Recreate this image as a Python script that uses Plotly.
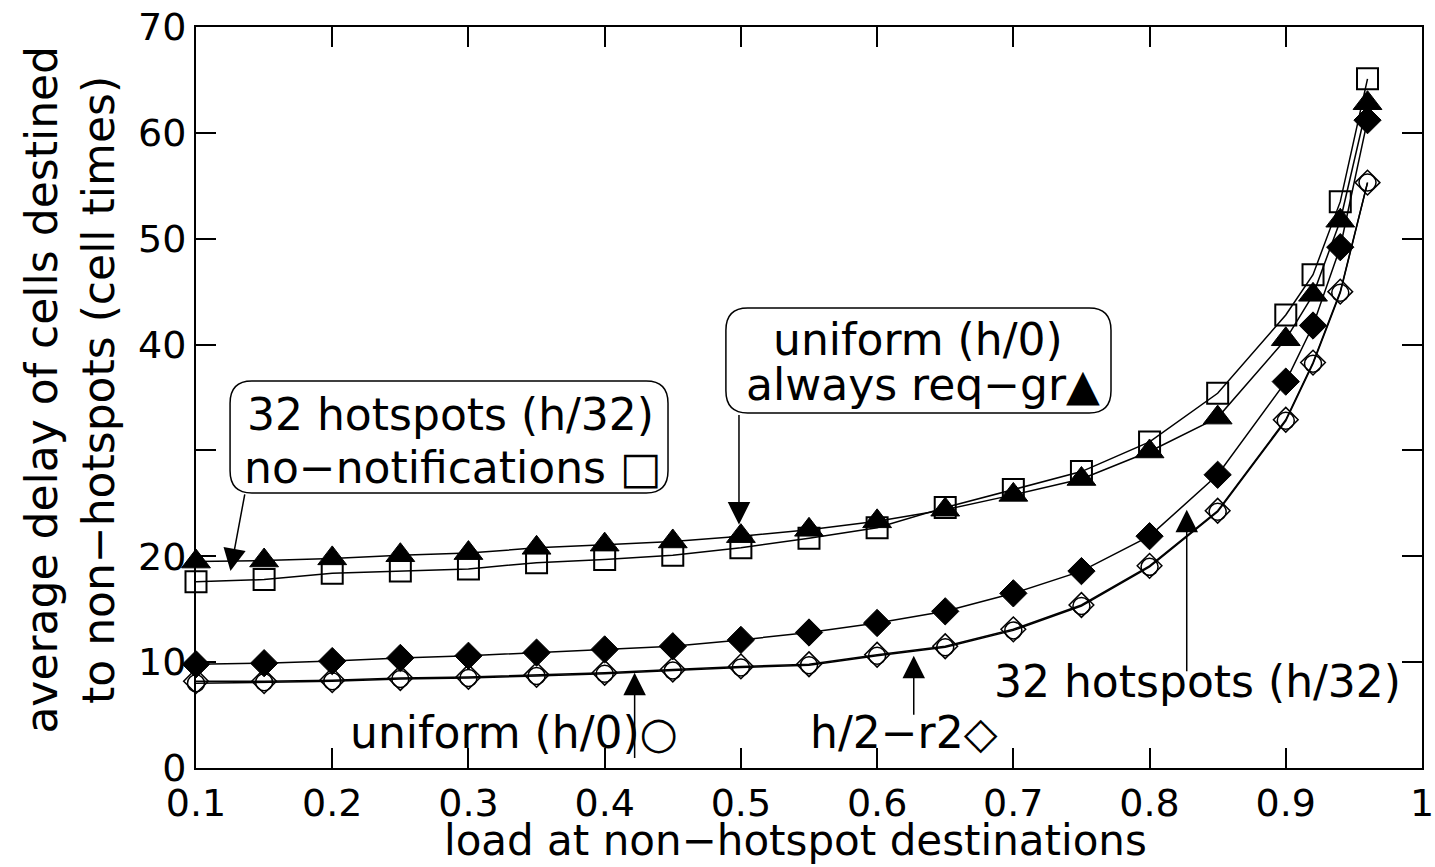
import plotly.graph_objects as go

# ---------------- data ----------------
load = [0.1, 0.15, 0.2, 0.25, 0.3, 0.35, 0.4, 0.45, 0.5, 0.55, 0.6, 0.65,
        0.7, 0.75, 0.8, 0.85, 0.9, 0.92, 0.94, 0.96]

h32_no_notif = [17.6, 17.8, 18.4, 18.6, 18.8, 19.4, 19.7, 20.1, 20.8, 21.7,
                22.7, 24.6, 26.3, 28.0, 30.8, 35.4, 42.8, 46.6, 53.5, 65.1]
uniform_always = [19.5, 19.6, 19.8, 20.1, 20.3, 20.8, 21.1, 21.4, 21.9, 22.5,
                  23.3, 24.4, 25.8, 27.3, 29.9, 33.1, 40.5, 44.7, 51.7, 62.8]
h32 = [9.8, 9.9, 10.1, 10.4, 10.6, 10.9, 11.2, 11.5, 12.1, 12.8,
       13.7, 14.8, 16.5, 18.6, 21.9, 27.7, 36.5, 41.8, 49.2, 61.2]
h2_r2 = [8.2, 8.2, 8.3, 8.5, 8.6, 8.8, 9.0, 9.3, 9.6, 9.8,
         10.7, 11.5, 13.1, 15.4, 19.1, 24.3, 32.9, 38.3, 45.0, 55.3]
uniform_h0 = [8.0, 8.1, 8.2, 8.4, 8.5, 8.7, 8.9, 9.2, 9.5, 9.7,
              10.6, 11.4, 13.0, 15.3, 19.0, 24.2, 32.8, 38.2, 44.9, 55.3]

x_ticks = [0.1, 0.2, 0.3, 0.4, 0.5, 0.6, 0.7, 0.8, 0.9, 1.0]
x_ticktext = ["0.1", "0.2", "0.3", "0.4", "0.5", "0.6", "0.7", "0.8", "0.9", "1"]
y_ticks = [0, 10, 20, 30, 40, 50, 60, 70]
y_ticktext = ["0", "10", "20", "", "40", "50", "60", "70"]

FONT = "DejaVu Sans"
BLK = "black"

fig = go.Figure()

def add_series(y, symbol, size, filled, lw=1.6):
    fig.add_trace(go.Scatter(
        x=load, y=y, mode="lines+markers", cliponaxis=False,
        line=dict(color=BLK, width=1.5),
        marker=dict(symbol=symbol, size=size,
                    color=BLK if filled else "rgba(0,0,0,0)",
                    line=dict(color=BLK, width=lw)),
        showlegend=False))

add_series(uniform_h0, "circle", 17, False, 1.5)
add_series(h2_r2, "diamond", 19, False, 1.5)
add_series(h32, "diamond", 21, True, 1)
add_series(h32_no_notif, "square", 21, False, 2)
add_series(uniform_always, "triangle-up", 25, True, 1)

# ---------------- rounded boxes ----------------
def rounded_box(x0, x1, y0, y1, rx=0.016, ry=2.1):
    p = (f"M {x0+rx},{y1} L {x1-rx},{y1} Q {x1},{y1} {x1},{y1-ry} "
         f"L {x1},{y0+ry} Q {x1},{y0} {x1-rx},{y0} "
         f"L {x0+rx},{y0} Q {x0},{y0} {x0},{y0+ry} "
         f"L {x0},{y1-ry} Q {x0},{y1} {x0+rx},{y1} Z")
    fig.add_shape(type="path", path=p, xref="x", yref="y",
                  line=dict(color=BLK, width=1.5), fillcolor="white", layer="above")

rounded_box(0.125, 0.4465, 25.98, 36.56)
rounded_box(0.489, 0.7717, 33.53, 43.45)

def label(x, y, text, size=44):
    fig.add_annotation(x=x, y=y, xref="x", yref="y", text=text, showarrow=False,
                       font=dict(family=FONT, size=size, color=BLK),
                       xanchor="center", yanchor="middle")

def arrow(x_tail, y_tail, x_tip, y_tip):
    fig.add_annotation(x=x_tip, y=y_tip, ax=x_tail, ay=y_tail,
                       xref="x", yref="y", axref="x", ayref="y",
                       text="", showarrow=True, arrowhead=2, arrowsize=3,
                       arrowwidth=1.5, arrowcolor=BLK, standoff=0)

label(0.2865, 33.4, "32 hotspots (h/32)")
label(0.2890, 28.4, "no\u2212notifications \u25a1")
label(0.6300, 40.5, "uniform (h/0)")
label(0.6340, 36.2, "always req\u2212gr\u25b2")
label(0.3335, 3.4, "uniform (h/0)\u25cb")
label(0.6194, 3.4, "h/2\u2212r2\u25c7")
label(0.8350, 8.2, "32 hotspots (h/32)")

arrow(0.136, 26.0, 0.1253, 18.6)
arrow(0.4986, 33.5, 0.4986, 23.0)
arrow(0.422, 0.8, 0.422, 9.0)
arrow(0.6269, 4.9, 0.6269, 10.6)
arrow(0.8273, 9.0, 0.8273, 24.4)

# axis titles
fig.add_annotation(x=-0.1260, y=0.51, xref="paper", yref="paper",
                   text="average delay of cells destined", textangle=-90,
                   showarrow=False, xanchor="center", yanchor="middle",
                   font=dict(family=FONT, size=44, color=BLK))
fig.add_annotation(x=-0.0800, y=0.51, xref="paper", yref="paper",
                   text="to non\u2212hotspots (cell times)", textangle=-90,
                   showarrow=False, xanchor="center", yanchor="middle",
                   font=dict(family=FONT, size=44, color=BLK))
fig.add_annotation(x=0.4886, y=-0.0985, xref="paper", yref="paper",
                   text="load at non\u2212hotspot destinations",
                   showarrow=False, xanchor="center", yanchor="middle",
                   font=dict(family=FONT, size=42, color=BLK))

axis_common = dict(showline=True, linecolor=BLK, linewidth=2, mirror="ticks",
                   ticks="inside", ticklen=20, tickwidth=1.5, tickcolor=BLK,
                   showgrid=False, zeroline=False, automargin=False,
                   tickfont=dict(family=FONT, size=38, color=BLK))

fig.update_layout(
    width=1435, height=867,
    margin=dict(l=196, r=13, t=27, b=99),
    paper_bgcolor="white", plot_bgcolor="white",
    xaxis=dict(range=[0.1, 1.0], tickvals=x_ticks, ticktext=x_ticktext, **axis_common),
    yaxis=dict(range=[0, 70], tickvals=y_ticks, ticktext=y_ticktext, **axis_common),
)

fig.write_html("out.html")
